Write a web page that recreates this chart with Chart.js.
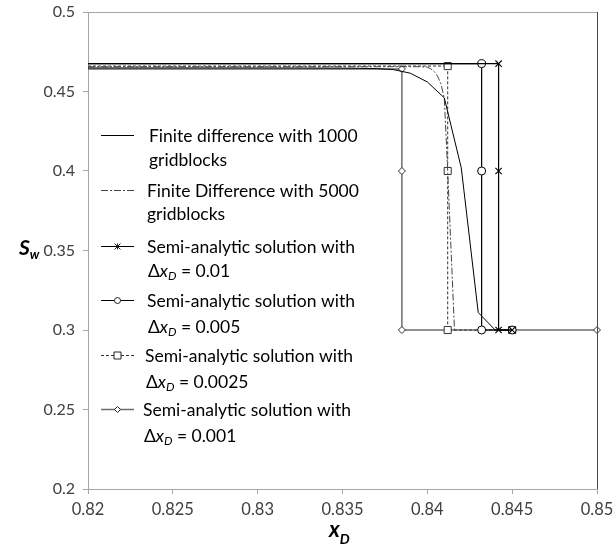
<!DOCTYPE html>
<html>
<head>
<meta charset="utf-8">
<script src="https://cdn.jsdelivr.net/npm/chart.js@4/dist/chart.umd.min.js"></script>
<style>
  html, body { margin: 0; padding: 0; background: #fff; }
  #wrap { position: relative; width: 613px; height: 550px; }
</style>
</head>
<body>
<div id="wrap"><canvas id="c" width="613" height="550"></canvas></div>
<script>
// ---- Data ----
const xTicks = [0.82, 0.825, 0.83, 0.835, 0.84, 0.845, 0.85];
const yTicks = [0.2, 0.25, 0.3, 0.35, 0.4, 0.45, 0.5];

const fd1000X  = [0.82, 0.83, 0.835, 0.836, 0.837, 0.838, 0.839, 0.840, 0.841, 0.842, 0.843, 0.844, 0.845];
const fd1000Sw = [0.4648, 0.4648, 0.4647, 0.4646, 0.4644, 0.4638, 0.4615, 0.456, 0.446, 0.402, 0.311, 0.300, 0.300];

const fd5000X  = [0.82, 0.8396, 0.8400, 0.8402, 0.8404, 0.8406, 0.8408, 0.8410, 0.8412, 0.8414, 0.8416];
const fd5000Sw = [0.4656, 0.4656, 0.4653, 0.4643, 0.4626, 0.4598, 0.4548, 0.446, 0.400, 0.350, 0.300];

const sa01X  = [0.82, 0.8442, 0.8442, 0.8442, 0.845];
const sa01Sw = [0.4675, 0.4675, 0.4, 0.3, 0.3];

const sa005X  = [0.82, 0.8432, 0.8432, 0.8432, 0.845];
const sa005Sw = [0.4675, 0.4675, 0.4, 0.3, 0.3];

const sa0025X  = [0.82, 0.8412, 0.8412, 0.8412, 0.845];
const sa0025Sw = [0.466, 0.466, 0.4, 0.3, 0.3];

const sa001X  = [0.82, 0.8385, 0.8385, 0.8385, 0.845, 0.85];
const sa001Sw = [0.4642, 0.4642, 0.4, 0.3, 0.3, 0.3];

const legendLabels = [
  ["Finite difference with 1000", "gridblocks"],
  ["Finite Difference with 5000", "gridblocks"],
  ["Semi-analytic solution with", "0.01"],
  ["Semi-analytic solution with", "0.005"],
  ["Semi-analytic solution with", "0.0025"],
  ["Semi-analytic solution with", "0.001"]
];

function pts(xs, ys) { return xs.map((x, i) => ({ x: x, y: ys[i] })); }

const FONT = 'Lato, "Open Sans", sans-serif';

const datasets = [
  { label: legendLabels[0].join(' '), data: pts(fd1000X, fd1000Sw), borderColor: '#000', borderWidth: 1, pointRadius: 0, showLine: true, mk: null },
  { label: legendLabels[1].join(' '), data: pts(fd5000X, fd5000Sw), borderColor: '#444', borderWidth: 1, borderDash: [7, 2, 2, 2], pointRadius: 0, showLine: true, mk: null },
  { label: legendLabels[2].join(' '), data: pts(sa01X, sa01Sw), borderColor: '#000', borderWidth: 1.2, showLine: true,
    pointStyle: 'crossRot', pointRadius: ctx => ctx.dataIndex === 0 ? 0 : 4.5, pointBorderColor: '#000', pointBorderWidth: 1.1, mk: 'x' },
  { label: legendLabels[3].join(' '), data: pts(sa005X, sa005Sw), borderColor: '#000', borderWidth: 1.2, showLine: true,
    pointStyle: 'circle', pointRadius: ctx => ctx.dataIndex === 0 ? 0 : 4, pointBackgroundColor: '#fff', pointBorderColor: '#000', pointBorderWidth: 1, mk: 'o' },
  { label: legendLabels[4].join(' '), data: pts(sa0025X, sa0025Sw), borderColor: '#333', borderWidth: 1, borderDash: [3, 2], showLine: true,
    pointStyle: 'rect', pointRadius: ctx => ctx.dataIndex === 0 ? 0 : 5,
    pointBackgroundColor: ctx => ctx.dataIndex === 4 ? '#1a1a1a' : '#fff', pointBorderColor: '#333', pointBorderWidth: 1, mk: 's' },
  { label: legendLabels[5].join(' '), data: pts(sa001X, sa001Sw), borderColor: '#6e6e6e', borderWidth: 1.5, showLine: true,
    pointStyle: 'rectRot', pointRadius: ctx => ctx.dataIndex === 0 ? 0 : 3.5, pointBackgroundColor: '#fff', pointBorderColor: '#333', pointBorderWidth: 1, clip: false, mk: 'd' }
];

function drawMarker(ctx, type, x, y) {
  ctx.save();
  ctx.setLineDash([]);
  ctx.lineWidth = 1;
  ctx.strokeStyle = '#222';
  ctx.fillStyle = '#fff';
  ctx.beginPath();
  if (type === 'x') {
    const r = 3;
    ctx.moveTo(x - r, y - r); ctx.lineTo(x + r, y + r);
    ctx.moveTo(x + r, y - r); ctx.lineTo(x - r, y + r);
    ctx.moveTo(x, y - r); ctx.lineTo(x, y + r);
    ctx.stroke();
  } else if (type === 'o') {
    ctx.arc(x, y, 3, 0, Math.PI * 2); ctx.fill(); ctx.stroke();
  } else if (type === 's') {
    ctx.rect(x - 3.5, y - 3.5, 7, 7); ctx.fill(); ctx.stroke();
  } else if (type === 'd') {
    ctx.moveTo(x, y - 3); ctx.lineTo(x + 3, y); ctx.lineTo(x, y + 3); ctx.lineTo(x - 3, y); ctx.closePath();
    ctx.fill(); ctx.stroke();
  }
  ctx.restore();
}

const legendRows = [
  { y: 135, y2: 160, tx: 149 },
  { y: 190, y2: 214, tx: 147 },
  { y: 246, y2: 271, tx: 147 },
  { y: 300, y2: 327, tx: 147 },
  { y: 355, y2: 382, tx: 145 },
  { y: 409, y2: 436, tx: 143 }
];

const LFS = 17.5;

const overlayPlugin = {
  id: 'overlay',
  afterDraw(chart) {
    const ctx = chart.ctx;
    const a = chart.chartArea;
    ctx.save();
    // plot border (top & right)
    ctx.lineWidth = 1;
    ctx.strokeStyle = '#a6a6a6';
    ctx.beginPath(); ctx.moveTo(a.left, a.top + 0.5); ctx.lineTo(a.right, a.top + 0.5); ctx.stroke();
    ctx.strokeStyle = '#4a4a4a';
    ctx.beginPath(); ctx.moveTo(a.right + 0.5, a.top); ctx.lineTo(a.right + 0.5, a.bottom); ctx.stroke();

    // legend
    ctx.textBaseline = 'middle';
    ctx.fillStyle = '#000';
    chart.data.datasets.forEach((ds, i) => {
      const r = legendRows[i];
      ctx.save();
      ctx.strokeStyle = ds.borderColor;
      ctx.lineWidth = ds.borderWidth;
      ctx.setLineDash(ds.borderDash || []);
      ctx.beginPath(); ctx.moveTo(101, r.y + 0.5); ctx.lineTo(134, r.y + 0.5); ctx.stroke();
      ctx.restore();
      if (ds.mk) drawMarker(ctx, ds.mk, 117.5, r.y + 0.5);
      ctx.font = LFS + 'px ' + FONT;
      ctx.fillStyle = '#000';
      ctx.textAlign = 'left';
      ctx.fillText(legendLabels[i][0], r.tx, r.y + 1);
      if (i < 2) {
        ctx.fillText(legendLabels[i][1], r.tx, r.y2);
      } else {
        let x = r.tx + 1;
        ctx.font = LFS + 'px ' + FONT;
        ctx.fillText('\u0394', x, r.y2); x += ctx.measureText('\u0394').width;
        ctx.font = 'italic ' + LFS + 'px ' + FONT;
        ctx.fillText('x', x, r.y2); x += ctx.measureText('x').width;
        ctx.font = 'italic 12px ' + FONT;
        ctx.fillText('D', x, r.y2 + 5); x += ctx.measureText('D').width;
        ctx.font = LFS + 'px ' + FONT;
        ctx.fillText(' = ' + legendLabels[i][1], x, r.y2);
      }
    });

    // axis titles
    ctx.fillStyle = '#000';
    ctx.textAlign = 'left';
    ctx.font = 'bold italic 21px ' + FONT;
    ctx.fillText('S', 19, 248);
    let sw = ctx.measureText('S').width;
    ctx.font = 'bold italic 13px ' + FONT;
    ctx.fillText('w', 19 + sw, 255);

    ctx.font = 'bold italic 22px ' + FONT;
    ctx.fillText('x', 329, 530);
    let xw = ctx.measureText('x').width;
    ctx.font = 'bold italic 14px ' + FONT;
    ctx.fillText('D', 329 + xw, 539);
    ctx.restore();
  }
};

const fmt = v => String(parseFloat(Number(v).toFixed(4)));

new Chart(document.getElementById('c'), {
  type: 'scatter',
  data: { datasets: datasets },
  options: {
    responsive: false,
    animation: false,
    devicePixelRatio: 1,
    layout: { padding: { top: 12, right: 16, left: 0, bottom: 0 } },
    plugins: { legend: { display: false }, tooltip: { enabled: false } },
    elements: { line: { tension: 0 } },
    scales: {
      x: {
        type: 'linear', min: xTicks[0], max: xTicks[xTicks.length - 1],
        afterBuildTicks: s => { s.ticks = xTicks.map(v => ({ value: v })); },
        afterFit: s => { s.height = 61; s.paddingLeft = 0; s.paddingRight = 0; },
        ticks: { callback: v => fmt(v), font: { family: FONT, size: 16.5 }, color: '#404040', padding: 6, maxRotation: 0, autoSkip: false },
        grid: { drawOnChartArea: false, drawTicks: true, tickLength: 5, color: '#a6a6a6' },
        border: { color: '#a6a6a6' }
      },
      y: {
        type: 'linear', min: yTicks[0], max: yTicks[yTicks.length - 1],
        afterBuildTicks: s => { s.ticks = yTicks.map(v => ({ value: v })); },
        afterFit: s => { s.width = 88; s.paddingTop = 0; s.paddingBottom = 0; },
        ticks: { callback: v => fmt(v), font: { family: FONT, size: 16 }, color: '#404040', padding: 8 },
        grid: { drawOnChartArea: false, drawTicks: true, tickLength: 5, color: '#a6a6a6' },
        border: { color: '#a6a6a6' }
      }
    }
  },
  plugins: [overlayPlugin]
});
</script>
</body>
</html>
